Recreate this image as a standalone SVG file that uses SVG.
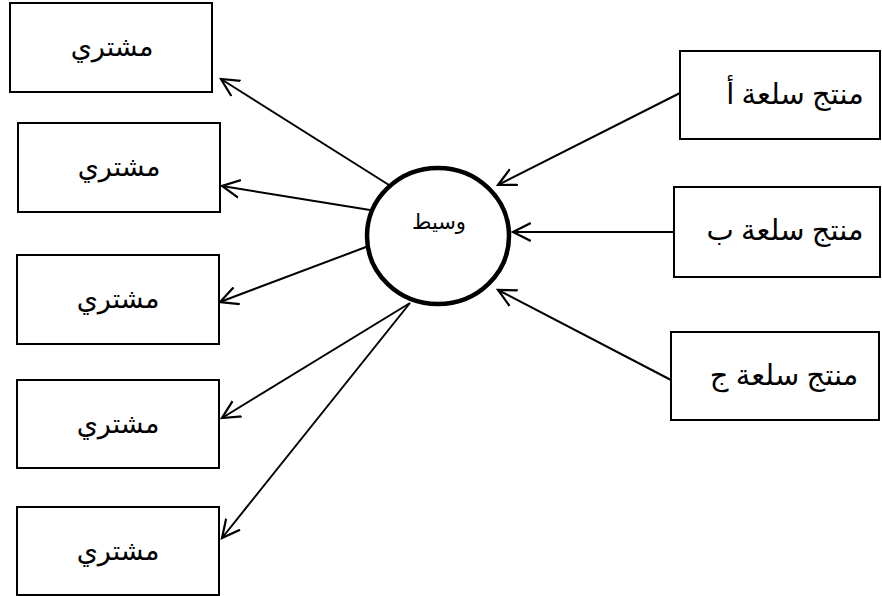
<svg xmlns="http://www.w3.org/2000/svg" width="882" height="596" viewBox="0 0 882 596">
<style>
.box{fill:#fff;stroke:#000;stroke-width:2}
.t{font-family:"Liberation Serif","DejaVu Sans",serif;font-size:27px;fill:#000;text-anchor:middle}
.p{font-size:29px}
.c{fill:#fff;stroke:#000;stroke-width:4.5}
.ln{stroke:#000;stroke-width:2;fill:none;marker-end:url(#ah)}
</style>
<defs>
<marker id="ah" markerWidth="20" markerHeight="20" viewBox="-16 -8 18 16" refX="0" refY="0" orient="auto" markerUnits="userSpaceOnUse">
<path d="M-16,-8 L0,0 L-16,8" fill="none" stroke="#000" stroke-width="2"/>
</marker>
</defs>
<rect width="882" height="596" fill="#fff"/>
<g id="connectors">
<line class="ln" x1="389" y1="185" x2="221" y2="79"/>
<line class="ln" x1="370" y1="210" x2="222" y2="186"/>
<line class="ln" x1="366" y1="247" x2="220" y2="302"/>
<line class="ln" x1="410" y1="303" x2="222" y2="418"/>
<line class="ln" x1="410" y1="303" x2="222" y2="538"/>
<line class="ln" x1="680" y1="93" x2="498" y2="185"/>
<line class="ln" x1="674" y1="232" x2="513" y2="232"/>
<line class="ln" x1="671" y1="380" x2="498" y2="290"/>
</g>
<g id="buyer1"><rect class="box" x="10" y="3" width="202" height="89"/><text class="t" x="112" y="56">مشتري</text></g>
<g id="buyer2"><rect class="box" x="18" y="123" width="202" height="89"/><text class="t" x="119" y="176">مشتري</text></g>
<g id="buyer3"><rect class="box" x="17" y="255" width="202" height="89"/><text class="t" x="118" y="308">مشتري</text></g>
<g id="buyer4"><rect class="box" x="17" y="380" width="202" height="88"/><text class="t" x="118" y="433">مشتري</text></g>
<g id="buyer5"><rect class="box" x="17" y="507" width="202" height="88"/><text class="t" x="118" y="560">مشتري</text></g>
<g id="broker"><ellipse class="c" cx="438" cy="236" rx="71" ry="68"/><text class="t" x="439" y="229" style="font-size:21px">وسيط</text></g>
<g id="producerA"><rect class="box" x="680" y="51" width="200" height="88"/><text class="t p" x="795" y="104">منتج سلعة أ</text></g>
<g id="producerB"><rect class="box" x="674" y="187" width="206" height="90"/><text class="t p" x="785" y="240">منتج سلعة ب</text></g>
<g id="producerC"><rect class="box" x="671" y="332" width="208" height="88"/><text class="t p" x="784" y="385">منتج سلعة ج</text></g>
</svg>
